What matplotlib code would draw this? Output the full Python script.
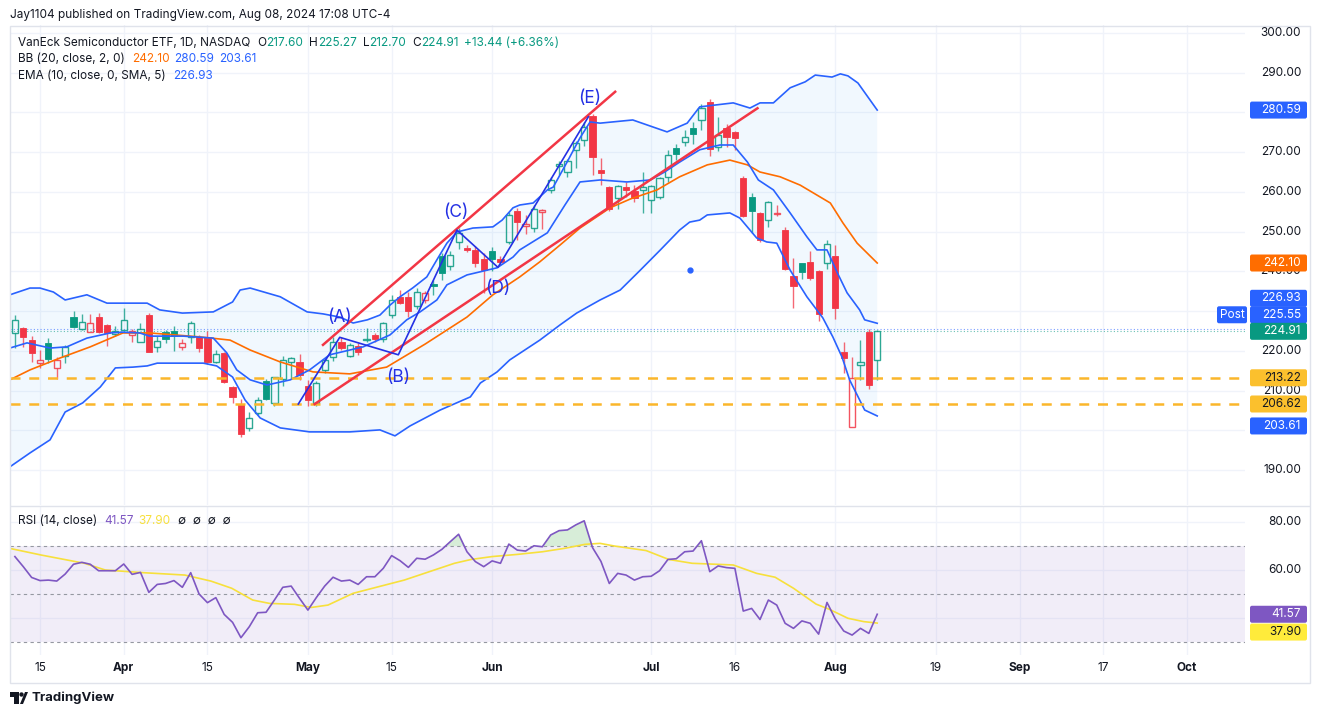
import matplotlib
matplotlib.use("Agg")
import matplotlib.pyplot as plt
from matplotlib.patches import Rectangle, Polygon, Circle, FancyBboxPatch
from matplotlib.transforms import IdentityTransform
import pandas as pd

plt.rcParams["font.family"] = ["Inter", "DejaVu Sans"]

W, H = 1320, 715
FS = 8.5
DARK = "#131722"
GREEN = "#089981"
RED = "#F23645"
BLUE = "#2962FF"
ORANGE = "#FF6D00"
PURPLE = "#7E57C2"
YELLOW = "#F7E03C"
GOLD = "#FBB62B"
WAVE = "#2430E4"
GRID = "#F0F3FA"

# ---- daily candles, 2024-03-12 .. 2024-08-08 ----
opens = [224.4, 225.7, 222.7, 216.9, 221.9, 215.6, 218.7, 228.4, 225.4, 224.8,
         228.6, 226.5, 224.2, 225.2, 224.0, 222.3, 229.0, 221.0, 224.7, 225.1,
         220.9, 223.4, 223.4, 223.6, 217.3, 219.4, 210.8, 206.6, 200.5, 204.3,
         212.4, 206.8, 212.9, 217.3, 217.1, 211.2, 206.8, 215.2, 218.5, 222.3,
         218.7, 221.2, 222.7, 224.0, 222.9, 229.0, 233.6, 233.5, 231.4, 232.8,
         236.7, 243.9, 241.4, 247.5, 245.8, 245.4, 243.1, 245.0, 243.1, 247.3,
         255.2, 251.5, 250.8, 254.9, 260.5, 266.6, 265.1, 270.6, 273.1, 279.1,
         265.5, 261.3, 258.4, 261.3, 260.2, 260.5, 258.0, 258.6, 263.8, 271.0,
         272.5, 276.0, 278.1, 282.7, 271.4, 276.0, 275.0, 263.6, 258.8, 254.6,
         252.8, 254.4, 250.4, 238.8, 242.0, 242.3, 240.1, 242.2, 243.9, 219.6,
         200.8, 216.4, 224.7, 217.60]
highs = [229.0, 226.1, 223.7, 220.2, 223.2, 218.5, 221.5, 229.9, 229.2, 229.2,
         229.4, 226.7, 226.3, 230.7, 225.6, 227.0, 229.4, 223.8, 225.2, 226.3,
         223.0, 227.5, 224.1, 224.9, 220.2, 219.8, 211.2, 208.0, 204.5, 208.5,
         212.8, 213.5, 218.7, 218.5, 219.3, 212.6, 212.3, 218.3, 223.5, 223.5,
         222.0, 221.9, 225.8, 224.4, 227.3, 234.0, 235.3, 234.8, 235.9, 235.1,
         237.8, 244.6, 245.2, 250.8, 246.7, 246.3, 244.7, 246.1, 243.9, 254.9,
         256.0, 254.3, 256.7, 255.8, 263.8, 267.8, 268.4, 272.8, 277.5, 279.6,
         268.5, 261.5, 261.7, 262.5, 261.7, 264.9, 261.8, 263.8, 270.5, 272.0,
         275.6, 277.5, 282.0, 283.5, 278.8, 277.2, 275.2, 263.9, 259.8, 255.0,
         257.8, 256.8, 251.2, 243.3, 242.2, 245.0, 240.4, 247.9, 246.6, 222.3,
         218.5, 222.7, 225.5, 225.27]
lows = [220.7, 221.0, 217.3, 215.6, 216.9, 212.8, 216.9, 225.7, 225.2, 224.8,
        224.5, 221.3, 223.8, 225.2, 222.3, 222.3, 219.6, 219.8, 222.0, 220.0,
        220.3, 222.0, 219.8, 216.7, 216.9, 212.0, 206.9, 198.4, 199.7, 203.8,
        207.5, 206.2, 211.1, 213.0, 212.6, 206.2, 206.2, 214.5, 217.5, 220.3,
        218.4, 218.9, 222.2, 222.2, 222.2, 228.3, 231.8, 228.6, 230.6, 232.0,
        234.1, 237.8, 240.4, 245.6, 244.8, 241.0, 234.5, 240.2, 241.6, 246.8,
        248.0, 249.3, 249.9, 250.6, 259.7, 264.3, 263.8, 266.0, 271.5, 264.3,
        261.7, 255.3, 255.8, 258.7, 257.5, 254.7, 254.6, 258.2, 262.5, 268.0,
        271.5, 272.0, 275.5, 269.0, 270.2, 271.4, 270.6, 253.6, 249.7, 247.4,
        251.2, 254.0, 240.4, 230.7, 238.1, 237.9, 227.5, 240.5, 227.9, 214.3,
        200.8, 212.6, 210.5, 212.70]
closes = [227.8, 223.4, 219.4, 217.7, 217.9, 217.7, 221.0, 226.1, 227.3, 226.9,
          224.8, 224.5, 225.1, 227.8, 225.1, 225.5, 219.8, 222.5, 222.9, 223.8,
          221.9, 227.1, 220.6, 217.3, 219.2, 212.2, 208.5, 199.1, 203.0, 207.6,
          207.9, 213.3, 217.7, 218.1, 213.9, 207.6, 211.8, 217.7, 222.3, 220.6,
          221.5, 219.8, 223.1, 223.0, 226.9, 232.8, 232.0, 229.9, 234.7, 234.5,
          236.3, 239.7, 244.1, 249.6, 245.4, 242.2, 240.3, 243.1, 242.4, 254.2,
          252.3, 252.0, 255.7, 255.4, 263.0, 266.9, 267.8, 272.2, 276.4, 268.7,
          264.7, 255.6, 261.5, 260.6, 258.4, 261.2, 261.5, 263.4, 269.3, 269.6,
          273.9, 274.5, 281.0, 270.7, 274.3, 273.7, 273.5, 253.9, 255.3, 247.9,
          257.4, 254.7, 240.6, 236.3, 239.9, 238.3, 229.3, 246.9, 230.7, 218.3,
          213.2, 217.3, 211.47, 224.91]

# ---- indicator lines (bar index, value) ----
bb_upper_x = [-0.6, 1.8, 3.0, 4.6, 6.0, 8.6, 11.0, 15.8, 17.3, 20.0,
              23.7, 26.0, 26.9, 28.1, 31.7, 34.9, 36.8, 38.8, 40.4, 42.1,
              43.6, 44.8, 46.0, 47.5, 49.2, 50.4, 51.6, 52.8, 54.7, 57.1,
              58.2, 59.5, 60.3, 61.9, 63.6, 64.3, 65.9, 67.5, 68.7, 69.9,
              73.8, 77.9, 80.3, 81.8, 85.8, 87.8, 89.0, 90.6, 92.6, 94.4,
              95.6, 97.6, 98.6, 99.5, 100.7, 103]
bb_upper = [234.1, 235.8, 235.8, 234.8, 232.8, 234.1, 232.0, 232.0, 230.3, 229.5,
            229.8, 232.3, 235.3, 235.8, 233.6, 229.8, 229.3, 228.5, 227.0, 227.8,
            229.0, 231.5, 233.6, 235.8, 238.6, 242.9, 247.1, 249.9, 250.9, 251.2,
            252.9, 256.0, 256.7, 257.2, 260.5, 261.2, 267.3, 273.6, 277.6, 277.3,
            278.1, 275.1, 277.3, 281.4, 282.4, 281.1, 282.4, 282.4, 286.2, 287.7,
            289.4, 288.9, 289.7, 289.2, 287.4, 280.59]
bb_lower_x = [-0.6, 1.8, 4.2, 6.0, 8.1, 10.2, 12.0, 14.1, 15.8, 17.0,
              18.9, 22.5, 24.1, 26.0, 27.5, 29.3, 31.7, 35.2, 40.0, 43.6,
              45.4, 47.2, 50.8, 54.4, 55.6, 57.6, 59.1, 62.7, 65.1, 67.1,
              69.9, 72.3, 74.7, 77.1, 79.4, 80.6, 81.8, 82.7, 85.4, 86.6,
              88.6, 89.8, 91.0, 92.6, 94.6, 96.5, 97.7, 98.8, 99.7, 101.5, 103]
bb_lower = [190.8, 194.3, 197.6, 204.6, 206.9, 210.9, 215.7, 215.9, 216.2, 216.9,
            216.9, 216.9, 216.2, 213.4, 207.6, 203.1, 200.6, 199.6, 199.6, 200.1,
            198.6, 201.1, 205.1, 208.4, 211.9, 214.7, 217.7, 222.7, 226.5, 229.5,
            232.8, 235.3, 240.3, 245.4, 250.4, 252.4, 252.9, 254.2, 254.7, 253.4,
            248.4, 247.4, 247.1, 240.3, 233.6, 228.3, 223.5, 218.4, 212.7, 205.1, 203.61]
bb_basis_x = [-0.6, 1.8, 5.4, 9.0, 12.9, 16.1, 22.1, 25.7, 28.1, 31.7,
              35.6, 40.0, 44.4, 49.0, 54.0, 57.1, 60.3, 62.7, 65.1, 67.5,
              71.1, 73.5, 76.7, 79.4, 82.7, 85.4, 87.5, 89.0, 91.4, 93.8,
              95.8, 97.4, 98.9, 100.6, 103]
bb_basis = [212.7, 215.2, 218.2, 221.0, 224.5, 224.5, 223.5, 222.7, 220.2, 217.2,
            214.7, 214.2, 215.9, 221.7, 228.5, 234.1, 238.6, 242.4, 246.6, 250.9,
            256.0, 258.2, 260.5, 263.8, 266.8, 268.0, 266.8, 265.0, 263.8, 261.7,
            259.2, 257.2, 252.2, 247.1, 242.10]
ema_x = [-0.6, 1.45, 4.2, 6.2, 8.6, 11.4, 12.9, 14.9, 16.1, 20.1,
         23.7, 25.3, 26.5, 28.1, 30.1, 32.9, 35.2, 37.6, 41.6, 44.8,
         46.8, 48.4, 50.4, 51.6, 54.0, 57.6, 59.5, 60.3, 63.6, 65.7,
         67.5, 69.9, 73.1, 75.9, 77.6, 79.4, 81.8, 84.2, 85.8, 87.5,
         88.8, 90.6, 92.6, 94.6, 95.8, 97.0, 98.2, 99.4, 100.9, 101.5, 103]
ema = [220.7, 222.0, 220.7, 221.0, 223.2, 224.5, 224.7, 224.5, 223.7, 223.7,
       223.2, 219.5, 215.2, 212.7, 211.4, 212.7, 215.2, 219.0, 221.0, 224.0,
       227.8, 229.8, 232.8, 236.6, 239.1, 240.9, 243.6, 245.4, 249.7, 256.7,
       262.5, 263.0, 262.5, 263.0, 265.0, 267.5, 270.6, 271.8, 271.8, 267.5,
       263.0, 260.5, 254.7, 248.7, 245.4, 245.4, 239.8, 234.6, 230.3, 227.8, 226.93]

rsi = [65.6, 61.4, 56.9, 55.6, 55.8, 55.4, 58.3, 62.4, 63.2, 62.4,
       59.7, 59.7, 59.7, 62.5, 58.2, 59.0, 50.7, 54.0, 54.4, 55.6,
       52.8, 58.9, 50.0, 46.4, 48.5, 41.5, 38.2, 31.8, 36.4, 42.2,
       42.4, 47.5, 52.8, 53.3, 48.2, 43.3, 48.5, 53.3, 57.0, 55.4,
       55.8, 54.0, 57.2, 57.2, 60.7, 66.0, 63.9, 61.1, 64.9, 64.5,
       66.3, 68.6, 71.8, 74.9, 67.6, 63.5, 61.4, 63.8, 62.8, 70.8,
       68.3, 67.9, 70.1, 69.7, 74.6, 76.4, 76.7, 78.8, 80.5, 69.3,
       63.6, 54.4, 58.6, 57.9, 55.8, 57.2, 57.4, 59.7, 64.4, 64.7,
       67.6, 67.9, 72.2, 59.3, 61.7, 61.0, 60.7, 42.9, 44.0, 39.4,
       47.5, 45.4, 37.8, 35.7, 38.8, 37.8, 33.3, 46.5, 39.6, 34.6,
       32.9, 35.7, 33.6, 41.57]
rsi_ma_x = [-0.6, 3.2, 8.3, 10.8, 15.3, 20.3, 23.4, 25.9, 28.4, 30.4,
            33.4, 35.4, 37.4, 40.4, 43.5, 46.5, 49.5, 52.5, 54.5, 57.0,
            60.0, 63.0, 65.6, 68.1, 69.9, 71.6, 75.4, 78.1, 80.9, 85.8,
            88.6, 90.8, 93.0, 95.7, 97.3, 99.5, 101.4, 103]
rsi_ma = [69.0, 66.2, 62.8, 60.0, 58.9, 57.9, 55.4, 52.4, 47.5, 46.1,
          45.7, 44.4, 45.4, 50.3, 53.1, 55.8, 59.3, 62.8, 64.4, 65.6,
          66.5, 67.6, 69.0, 70.7, 71.1, 70.0, 68.1, 64.4, 62.8, 62.1,
          58.6, 57.0, 52.4, 45.8, 43.6, 39.9, 38.5, 37.90]

# ---- drawings (bar index, price) ----
support_levels = [213.22, 206.62]
channel_top_x, channel_top = [36.8, 71.7], [221.5, 285.2]
channel_bot_x, channel_bot = [35.8, 88.7], [206.6, 281.05]
wave_x = [33.85, 38.8, 45.8, 52.8, 57.7, 68.5]
wave_y = [206.6, 223.4, 219.0, 250.4, 241.0, 278.9]
wave_names = ["(A)", "(B)", "(C)", "(D)", "(E)"]
wave_name_x = [38.8, 45.8, 52.7, 57.7, 68.7]
wave_name_y = [228.3, 213.2, 254.9, 235.6, 283.6]
post_price = 225.55
dot_x, dot_y = 80.6, 240.3

price_ticks = [190, 200, 210, 220, 240, 250, 260, 270, 280, 290, 300]
grid_prices = [190, 200, 210, 220, 230, 240, 250, 260, 270, 280, 290, 300]
rsi_ticks = [80, 60]

holidays = pd.to_datetime(["2024-03-29", "2024-05-27", "2024-06-19",
                           "2024-07-04", "2024-09-02"])
days = pd.bdate_range("2024-03-12", "2024-10-15")
days = days[~days.isin(holidays)]
tick_dates = ["2024-03-15", "2024-04-01", "2024-04-15", "2024-05-01", "2024-05-15",
              "2024-06-03", "2024-07-01", "2024-07-16", "2024-08-01", "2024-08-19",
              "2024-09-03", "2024-09-17", "2024-10-01"]
tick_labels = ["15", "Apr", "15", "May", "15", "Jun", "Jul", "16", "Aug", "19",
               "Sep", "17", "Oct"]
tick_idx = [days.get_loc(pd.Timestamp(d)) for d in tick_dates]

# ---- figure ----
fig = plt.figure(figsize=(W / 100, H / 100), dpi=100)
fig.patch.set_facecolor("white")
ID = IdentityTransform()


def rect(x0, y0, x1, y1):
    return [x0 / W, 1 - y1 / H, (x1 - x0) / W, (y1 - y0) / H]


def txt(x, y, s, **kw):
    return fig.text(x, H - y, s, transform=ID, **kw)


ax = fig.add_axes(rect(10, 25, 1245, 505))
axr = fig.add_axes(rect(10, 507, 1245, 655))
for a in (ax, axr):
    a.set_xlim(-0.585, 146.93)
    a.axis("off")
ax.set_ylim(181.2, 302.0)
axr.set_ylim(24.6, 86.25)

# grid
for t in tick_idx:
    ax.axvline(t, color=GRID, lw=1, zorder=0)
    axr.axvline(t, color=GRID, lw=1, zorder=0)
for v in grid_prices:
    ax.axhline(v, color=GRID, lw=1, zorder=0)
for v in [80, 60, 40]:
    axr.axhline(v, color=GRID, lw=1, zorder=0)

# bollinger fill
poly = list(zip(bb_upper_x, bb_upper)) + list(zip(bb_lower_x, bb_lower))[::-1]
ax.add_patch(Polygon(poly, closed=True, fc="#2196F3", alpha=0.06, ec="none", zorder=1))

# candles
bw = 0.74
for i in range(len(closes)):
    o, h, l, c = opens[i], highs[i], lows[i], closes[i]
    prev = closes[i - 1] if i > 0 else o
    col = GREEN if c >= prev else RED
    top, bot = max(o, c), min(o, c)
    ax.vlines(i, top, h, color=col, lw=1, alpha=0.75, zorder=3)
    ax.vlines(i, l, bot, color=col, lw=1, alpha=0.75, zorder=3)
    hollow = c > o
    ax.add_patch(Rectangle((i - bw / 2, bot), bw, max(top - bot, 0.2),
                           fc="none" if hollow else col, ec=col,
                           lw=1.0 if hollow else 0.6, alpha=0.85 if hollow else 1,
                           zorder=3))

# indicator lines
ax.plot(bb_upper_x, bb_upper, color=BLUE, lw=1.2, zorder=4)
ax.plot(bb_lower_x, bb_lower, color=BLUE, lw=1.2, zorder=4)
ax.plot(bb_basis_x, bb_basis, color=ORANGE, lw=1.2, zorder=4)
ax.plot(ema_x, ema, color=BLUE, lw=1.2, zorder=4)

# levels
for lv in support_levels:
    ax.axhline(lv, color=GOLD, lw=1.8, dashes=(4, 3.5), zorder=4)
ax.axhline(post_price, color=BLUE, lw=0.8, ls=(0, (1, 2)), alpha=0.6, zorder=2)
ax.axhline(closes[-1], color=GREEN, lw=0.8, ls=(0, (1, 2)), alpha=0.6, zorder=2)

# drawings
ax.plot(channel_top_x, channel_top, color=RED, lw=1.8, zorder=5)
ax.plot(channel_bot_x, channel_bot, color=RED, lw=1.8, zorder=5)
ax.plot(wave_x, wave_y, color=WAVE, lw=1.2, zorder=5)
for nm, xx, yy in zip(wave_names, wave_name_x, wave_name_y):
    ax.text(xx, yy, nm, color=WAVE, fontsize=12.5, ha="center", va="center", zorder=6)
ax.plot([dot_x], [dot_y], "o", color=BLUE, ms=3.5, zorder=6)

# RSI pane
axr.axhspan(30, 70, color=PURPLE, alpha=0.1, lw=0, zorder=1)
for lv in (70, 50, 30):
    axr.axhline(lv, color="#9598A1", lw=0.8, ls=(0, (3, 3)), zorder=2)
rx = list(range(len(rsi)))
axr.fill_between(rx, 70, rsi, where=[r > 70 for r in rsi], interpolate=True,
                 color="#4CAF50", alpha=0.22, lw=0, zorder=2)
axr.plot(rsi_ma_x, rsi_ma, color=YELLOW, lw=1.2, zorder=3)
axr.plot(rx, rsi, color=PURPLE, lw=1.2, zorder=4)


# ---- right scale ----
def ypix(a, v):
    return H - a.transData.transform((0, v))[1]


for v in price_ticks:
    txt(1301, ypix(ax, v), f"{v:.2f}", ha="right", va="center", fontsize=FS,
        color=DARK, zorder=2)
for v in rsi_ticks:
    txt(1301, ypix(axr, v), f"{v:.2f}", ha="right", va="center", fontsize=FS,
        color=DARK, zorder=2)


def tag(a, v, fc, tc="white", dy=0, x0=1250, w=57):
    y = ypix(a, v) + dy
    fig.add_artist(FancyBboxPatch((x0, H - y - 8.5), w, 17,
                                  boxstyle="round,pad=0,rounding_size=2",
                                  transform=ID, fc=fc, ec="none", zorder=5))
    txt(x0 + w - 6, y, f"{v:.2f}", ha="right", va="center", fontsize=FS,
        color=tc, zorder=6)
    return y


tag(ax, bb_upper[-1], BLUE)
tag(ax, bb_basis[-1], ORANGE)
tag(ax, ema[-1], BLUE, dy=-25)
yp = tag(ax, post_price, BLUE, dy=-14)
tag(ax, closes[-1], GREEN)
tag(ax, support_levels[0], "#FBC02D", tc=DARK)
tag(ax, support_levels[1], "#FBC02D", tc=DARK)
tag(ax, bb_lower[-1], BLUE, dy=10)
fig.add_artist(FancyBboxPatch((1217, H - yp - 8.5), 30, 17,
                              boxstyle="round,pad=0,rounding_size=2",
                              transform=ID, fc=BLUE, ec="none", zorder=5))
txt(1232, yp, "Post", ha="center", va="center", fontsize=FS, color="white", zorder=6)
tag(axr, rsi[-1], PURPLE)
tag(axr, rsi_ma[-1], "#FFEB3B", tc=DARK, dy=9)

# date labels
for t, lab in zip(tick_idx, tick_labels):
    xd = axr.transData.transform((t, 0))[0]
    txt(xd, 668, lab, ha="center", va="center", fontsize=FS, color=DARK,
        fontweight="bold" if not lab.isdigit() else "normal")

# frame and pane separator
fig.add_artist(Rectangle((10, H - 683), 1300, 657, transform=ID, fc="none",
                         ec="#E0E3EB", lw=1))
fig.add_artist(Rectangle((10, H - 506), 1300, 0.01, transform=ID, fc="none",
                         ec="#E0E3EB", lw=1))

# ---- legends ----
renderer = fig.canvas.get_renderer()


def rich(x, y, parts, size=FS):
    for s, c, gap in parts:
        t = txt(x, y, s, ha="left", va="center", fontsize=size, color=c)
        x += t.get_window_extent(renderer).width + gap


txt(10, 15, "Jay1104 published on TradingView.com, Aug 08, 2024 17:08 UTC-4",
    ha="left", va="center", fontsize=FS, color=DARK)
chg = closes[-1] - closes[-2]
rich(18, 43, [("VanEck Semiconductor ETF, 1D, NASDAQ", DARK, 7),
              ("O", DARK, 0), (f"{opens[-1]:.2f}", GREEN, 6),
              ("H", DARK, 0), (f"{highs[-1]:.2f}", GREEN, 6),
              ("L", DARK, 0), (f"{lows[-1]:.2f}", GREEN, 6),
              ("C", DARK, 0), (f"{closes[-1]:.2f}", GREEN, 5),
              (f"+{chg:.2f} (+{chg / closes[-2] * 100:.2f}%)", GREEN, 0)])
rich(18, 59, [("BB (20, close, 2, 0)", DARK, 7), (f"{bb_basis[-1]:.2f}", ORANGE, 5),
              (f"{bb_upper[-1]:.2f}", BLUE, 5), (f"{bb_lower[-1]:.2f}", BLUE, 0)])
rich(18, 76, [("EMA (10, close, 0, SMA, 5)", DARK, 7), (f"{ema[-1]:.2f}", BLUE, 0)])
rich(18, 521, [("RSI (14, close)", DARK, 7), (f"{rsi[-1]:.2f}", PURPLE, 5),
               (f"{rsi_ma[-1]:.2f}", YELLOW, 7), ("\u2205  \u2205  \u2205  \u2205", DARK, 0)])

# ---- TradingView logo ----
fig.add_artist(Rectangle((10, H - 697), 9, 5, transform=ID, fc=DARK, ec="none"))
fig.add_artist(Rectangle((13.5, H - 704), 5.5, 8, transform=ID, fc=DARK, ec="none"))
fig.add_artist(Circle((21.5, H - 694.5), 2.2, transform=ID, fc=DARK, ec="none"))
fig.add_artist(Polygon([(20, H - 704), (25, H - 692), (28, H - 692), (23, H - 704)],
                       closed=True, transform=ID, fc=DARK, ec="none"))
txt(31, 698, "TradingView", ha="left", va="center", fontsize=9.5, fontweight="bold",
    color=DARK)

fig.savefig("out.png", dpi=100, facecolor="white")
